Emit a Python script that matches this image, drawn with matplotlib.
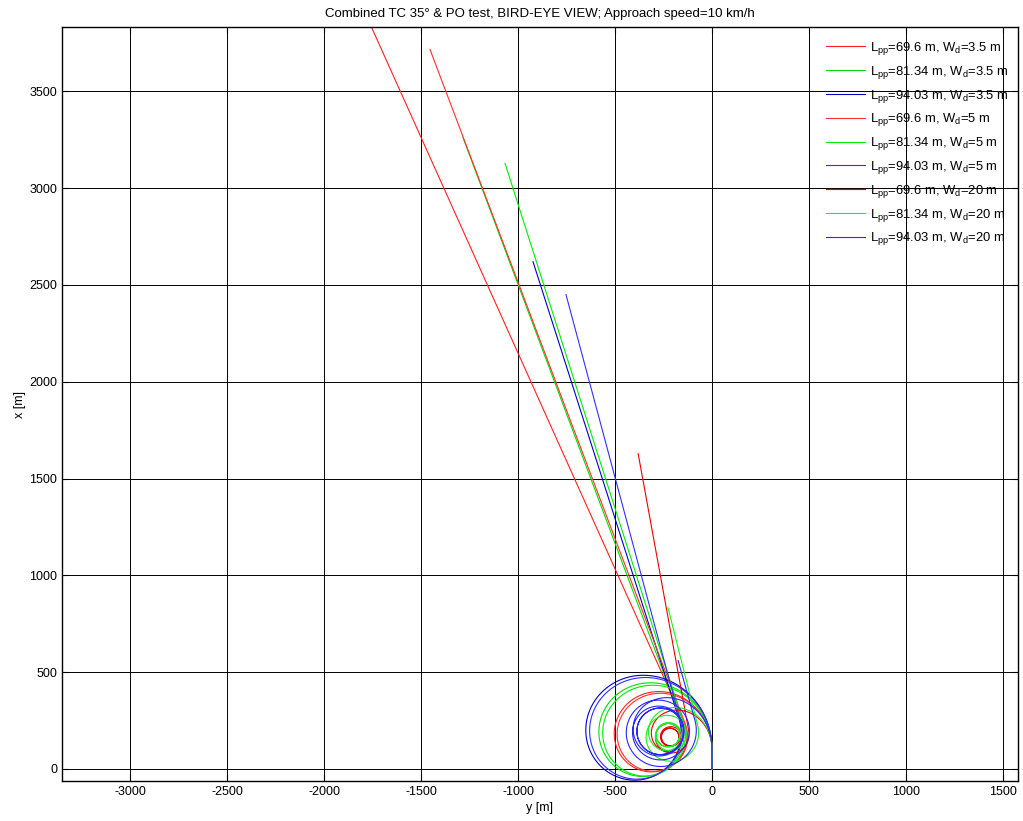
import numpy as np
import matplotlib
matplotlib.use('Agg')
import matplotlib.pyplot as plt

plt.rcParams['font.family'] = ['Liberation Sans', 'DejaVu Sans']
plt.rcParams['mathtext.fontset'] = 'custom'
plt.rcParams['mathtext.rm'] = 'Liberation Sans'
plt.rcParams['axes.unicode_minus'] = False

# ---- series definitions ----
lpp = ['69.6', '81.34', '94.03', '69.6', '81.34', '94.03', '69.6', '81.34', '94.03']
wd = ['3.5', '3.5', '3.5', '5', '5', '5', '20', '20', '20']
colors = ['#ff2020', '#00e000', '#0000c8', '#ff3030', '#00ee00', '#3030ff', '#ee0000', '#20ee20', '#2828ff']

# trajectory parameters: straight approach [m], initial / steady turning radius [m],
# radius decay [rad], turns at pull-out, radius growth after pull-out [rad],
# minimum turns before leaving on a straight course, end point (y, x) [m]
approach = [100, 100, 100, 100, 100, 100, 100, 100, 100]
r_start = [340, 390, 433, 330, 375, 420, 241, 261, 328]
r_final = [170, 200, 225, 165, 195, 218, 45, 60, 120]
r_decay = [2.0, 2.0, 2.0, 2.0, 2.0, 2.0, 2.63, 2.23, 1.56]
po_turns = [0.9, 0.9, 0.9, 0.9, 0.9, 0.9, 3.5, 3.2, 2.8]
po_growth = [20.0, 20.0, 20.0, 20.0, 20.0, 20.0, 12.0, 12.0, 30.0]
exit_turns = [0.75, 0.75, 0.75, 0.75, 0.75, 0.75, 4.75, 4.75, 4.75]
end_y = [-1800, -1284, -923, -1454, -1067, -753, -381, -227, -175]
end_x = [3930, 3261, 2620, 3716, 3127, 2450, 1628, 832, 560]


def trajectory(a, R0, R1, tau, npo, beta, nex, ey, ex):
    th_po = 2 * np.pi * npo
    th = np.linspace(0, 2 * np.pi * (nex + 1.2), 40000)
    R = R1 + (R0 - R1) * np.exp(-np.minimum(th, th_po) / tau)
    R = R * np.exp(np.maximum(th - th_po, 0) / beta)
    dth = np.diff(th)
    Rm = 0.5 * (R[1:] + R[:-1])
    thm = 0.5 * (th[1:] + th[:-1])
    y = np.concatenate([[0.0], np.cumsum(-Rm * np.sin(thm) * dth)])
    x = a + np.concatenate([[0.0], np.cumsum(Rm * np.cos(thm) * dth)])
    hy, hx = -np.sin(th), np.cos(th)
    cross = (ey - y) * hx - (ex - x) * hy
    dot = (ey - y) * hy + (ex - x) * hx
    start = np.searchsorted(th, 2 * np.pi * nex)
    idx = len(th) - 1
    for i in range(start, len(th) - 1):
        if np.sign(cross[i]) != np.sign(cross[i + 1]) and dot[i] > 0:
            idx = i
            break
    yy = np.concatenate([[0.0], y[:idx + 1], [ey]])
    xx = np.concatenate([[0.0], x[:idx + 1], [ex]])
    return yy, xx


fig = plt.figure(figsize=(10.23, 8.21), dpi=100)
ax = fig.add_axes([62 / 1023, 40 / 821, 956 / 1023, 754 / 821])

for i in range(len(lpp)):
    yy, xx = trajectory(approach[i], r_start[i], r_final[i], r_decay[i],
                        po_turns[i], po_growth[i], exit_turns[i], end_y[i], end_x[i])
    ax.plot(yy, xx, color=colors[i], lw=0.8,
            label=r'L$_{\rm pp}$=' + lpp[i] + r' m, W$_{\rm d}$=' + wd[i] + ' m')

ax.set_xlim(-3351, 1577)
ax.set_ylim(-62, 3832)
ax.set_xticks(np.arange(-3000, 1501, 500))
ax.set_yticks(np.arange(0, 3501, 500))
ax.grid(True, color='black', lw=0.7, ls='-')
ax.set_axisbelow(True)
ax.tick_params(direction='in', top=True, right=True, labelsize=9, length=4)
for s in ax.spines.values():
    s.set_linewidth(1.0)
ax.set_xlabel('y [m]', fontsize=9, labelpad=3)
ax.set_ylabel('x [m]', fontsize=9, labelpad=2.5)
ax.set_title('Combined TC 35° & PO test, BIRD-EYE VIEW; Approach speed=10 km/h',
             fontsize=9.5, pad=7)
leg = ax.legend(loc='upper right', frameon=False, fontsize=9.4, handlelength=3.0,
                labelspacing=0.52, borderaxespad=0.6, handletextpad=0.4,
                bbox_to_anchor=(1.004, 1.0))

fig.savefig('out.png', dpi=100)
